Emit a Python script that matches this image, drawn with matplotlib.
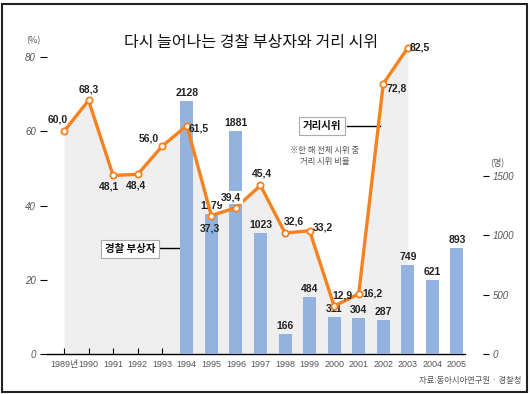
import matplotlib
matplotlib.use("Agg")
import matplotlib.pyplot as plt
from matplotlib.patches import Rectangle

plt.rcParams['font.family'] = ['Noto Sans CJK KR', 'DejaVu Sans']

# ---- data ----
line_years = [1989, 1990, 1991, 1992, 1993, 1994, 1995, 1996, 1997, 1998,
              1999, 2000, 2001, 2002, 2003]
street_protest_pct = [60.0, 68.3, 48.1, 48.4, 56.0, 61.5, 37.3, 39.4, 45.4,
                      32.6, 33.2, 12.9, 16.2, 72.8, 82.5]
bar_years = [1994, 1995, 1996, 1997, 1998, 1999, 2000, 2001, 2002, 2003,
             2004, 2005]
police_injured = [2128, 1179, 1881, 1023, 166, 484, 311, 304, 287, 749,
                  621, 893]
x_tick_years = list(range(1989, 2006))
x_tick_labels = ['1989년'] + [str(y) for y in range(1990, 2006)]
left_ticks = [0, 20, 40, 60, 80]
right_ticks = [0, 500, 1000, 1500]
pct_labels = ['60,0', '68,3', '48,1', '48,4', '56,0', '61,5', '37,3', '39,4',
              '45,4', '32,6', '33,2', '12,9', '16,2', '72,8', '82,5']
# label offsets in pixels (dx, dy)
pct_offsets = [(-6, 12), (0, 11), (-4, -11), (-2, -11), (-13, 8), (12, -3),
               (-1, -13), (-5, 10), (1, 12), (9, 11), (13, 3), (8, 11),
               (14, 0), (13, -5), (12, 0)]

ORANGE = '#f5821f'
BLUE = '#93b3de'
FILL = '#efefef'
GREY = '#555555'
NUMFONT = ['Liberation Sans Narrow', 'Liberation Sans', 'Noto Sans CJK KR']

W, H = 530, 394
fig = plt.figure(figsize=(W / 100, H / 100), dpi=100)

ax_l, ax_r, ax_b, ax_t = 47, 483, 354, 30
rect = [ax_l / W, 1 - ax_b / H, (ax_r - ax_l) / W, (ax_b - ax_t) / H]
ax = fig.add_axes(rect)            # left scale: fill + axes
ax2 = ax.twinx()                   # right scale: bars
ax3 = fig.add_axes(rect, sharex=ax, sharey=ax)  # left scale: line on top
ax.set_zorder(1)
ax2.set_zorder(2)
ax3.set_zorder(3)
ax2.patch.set_visible(False)
ax3.patch.set_visible(False)
ax3.axis('off')

px_per_year = 24.56
ax.set_xlim(1989 - (64 - ax_l) / px_per_year, 1989 + (ax_r - 64) / px_per_year)
ax.set_ylim(0, (ax_b - ax_t) / 3.7125)
ax2.set_ylim(0, (ax_b - ax_t) / 0.11867)

# grey fill under line
ax.fill_between(line_years, 0, street_protest_pct, color=FILL, lw=0, zorder=1)

# bars on the right axis
ax2.bar(bar_years, police_injured, width=0.53, color=BLUE, zorder=2)
for x, v in zip(bar_years, police_injured):
    ax2.annotate(str(v), (x, v), xytext=(0, 3), textcoords='offset pixels',
                 ha='center', va='bottom', fontsize=7.5, fontweight='bold',
                 family=NUMFONT, color='#222222', zorder=3)

ax3.plot(line_years, street_protest_pct, color=ORANGE, lw=2.4, zorder=5,
         marker='o', ms=4.5, mfc='white', mec=ORANGE, mew=1.3, clip_on=False)
for x, v, lab, (dx, dy) in zip(line_years, street_protest_pct, pct_labels, pct_offsets):
    kw = {}
    if lab == '39,4':
        kw['bbox'] = dict(boxstyle='square,pad=0.15', fc='white', ec='none')
    ax3.annotate(lab, (x, v), xytext=(dx, dy), textcoords='offset pixels',
                 ha='center', va='center', fontsize=7.5, fontweight='bold',
                 family=NUMFONT, color='#222222', zorder=6, **kw)

# spines / ticks
for s in ['top', 'right', 'left']:
    ax.spines[s].set_visible(False)
    ax2.spines[s].set_visible(False)
ax2.spines['bottom'].set_visible(False)
ax.spines['bottom'].set_bounds(ax.get_xlim()[0], 2005.33)
ax.spines['bottom'].set_linewidth(1.0)

ax.set_xticks(x_tick_years)
ax.set_xticklabels(x_tick_labels, fontsize=6.5, color=GREY, family=NUMFONT)
ax.tick_params(axis='x', direction='in', length=4, width=0.8, pad=4)

ax.set_yticks(left_ticks)
ax.set_yticklabels([str(t) for t in left_ticks], fontsize=7, color=GREY,
                   style='italic', family=NUMFONT)
ax.tick_params(axis='y', direction='out', length=5, width=0.8, pad=3)

ax2.set_yticks(right_ticks)
ax2.set_yticklabels([str(t) for t in right_ticks], fontsize=7, color=GREY,
                    style='italic', family=NUMFONT)
ax2.tick_params(axis='y', direction='out', length=4, width=0.8, pad=3)

# texts
fig.text(251 / W, 1 - 42 / H, '다시 늘어나는 경찰 부상자와 거리 시위',
         ha='center', va='center', fontsize=11.5, fontweight='medium',
         color='#111111')
fig.text(33 / W, 1 - 41 / H, '(%)', ha='center', va='center', fontsize=6.5, color=GREY)
fig.text(497 / W, 1 - 162 / H, '(명)', ha='center', va='center', fontsize=6.5, color=GREY)

# legend-like labels
fig.text(130 / W, 1 - 249 / H, '경찰 부상자', ha='center', va='center', fontsize=7.5,
         fontweight='bold', color='#111111',
         bbox=dict(boxstyle='square,pad=0.35', fc='white', ec='#aaaaaa', lw=0.8))
fig.add_artist(plt.Line2D([158 / W, 183 / W], [1 - 248 / H, 1 - 248 / H],
                          color='black', lw=1.0))
fig.text(322 / W, 1 - 126 / H, '거리시위', ha='center', va='center', fontsize=7.5,
         fontweight='bold', color='#111111',
         bbox=dict(boxstyle='square,pad=0.4', fc='white', ec='#aaaaaa', lw=0.8))
fig.add_artist(plt.Line2D([347 / W, 380 / W], [1 - 125.5 / H, 1 - 125.5 / H],
                          color='black', lw=1.0))
fig.text(325 / W, 1 - 156 / H, '※한 해 전체 시위 중\n거리 시위 비율', ha='center',
         va='center', fontsize=6, color=GREY, linespacing=1.2)

fig.text(521 / W, 1 - 381 / H, '자료:동아시아연구원 · 경찰청', ha='right',
         va='center', fontsize=6, color=GREY)

# frame
fig.add_artist(Rectangle((2 / W, 1 - 392 / H), 525 / W, 388 / H,
                         transform=fig.transFigure, fill=False, ec='#222222', lw=1.5))

fig.savefig('out.png', dpi=100)
